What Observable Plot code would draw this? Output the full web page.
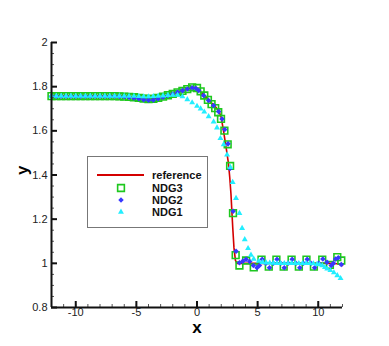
<!DOCTYPE html>
<html>
<head>
<meta charset="utf-8">
<script src="https://cdn.jsdelivr.net/npm/d3@7"></script>
<script src="https://cdn.jsdelivr.net/npm/@observablehq/plot@0.6"></script>
<style>
  html, body { margin: 0; padding: 0; background: #fff; }
  #wrap { position: relative; width: 389px; height: 346px; }
  #wrap svg { display: block; }
  #legend { position: absolute; left: 0; top: 0; pointer-events: none; }
</style>
</head>
<body>
<div id="wrap"></div>
<script>
// ---- data ----
const seriesNames = ["reference", "NDG3", "NDG2", "NDG1"];

const refX = [-12, -8, -6, -5, -4.5, -4, -3.5, -3, -2.5, -2, -1.5, -1, -0.5, -0.3, 0, 0.5, 1, 1.5, 1.8, 2.0, 2.2, 2.4, 2.6, 2.7, 2.8, 2.95, 3.05, 3.17, 3.3, 3.5, 4, 5, 6, 7, 8, 9, 10, 11, 11.6, 12];
const refY = [1.757, 1.757, 1.757, 1.753, 1.749, 1.746, 1.747, 1.752, 1.76, 1.768, 1.776, 1.785, 1.795, 1.797, 1.793, 1.765, 1.737, 1.71, 1.69, 1.66, 1.595, 1.525, 1.45, 1.39, 1.315, 1.16, 1.07, 1.013, 1.0, 1.0, 1.0, 1.0, 1.0, 1.0, 1.0, 1.0, 1.0, 1.0, 0.998, 0.99];

const ndg3X = [-12, -11.6, -11.2, -10.8, -10.4, -10, -9.6, -9.2, -8.8, -8.4, -8, -7.6, -7.2, -6.8,
  -6.4, -6, -5.6, -5.2, -4.8, -4.4, -4, -3.6, -3.2, -2.8, -2.4, -2, -1.6, -1.2, -0.8, -0.4,
  0, 0.3, 0.6, 0.9, 1.2, 1.5, 1.75, 1.98, 2.26, 2.53, 2.73, 2.97, 3.19, 3.5,
  4.05, 4.68, 5.32, 5.92, 6.55, 7.15, 7.8, 8.4, 9.03, 9.64, 10.33, 10.96, 11.57, 11.9];
const ndg3Y = [1.757, 1.757, 1.757, 1.757, 1.757, 1.757, 1.757, 1.757, 1.757, 1.757, 1.757, 1.757, 1.757, 1.757,
  1.756, 1.755, 1.754, 1.752, 1.749, 1.746, 1.744, 1.745, 1.749, 1.755, 1.761, 1.767, 1.774, 1.781, 1.789, 1.797,
  1.794, 1.779, 1.76, 1.74, 1.721, 1.703, 1.684, 1.654, 1.601, 1.539, 1.441, 1.227, 1.037, 0.99,
  1.013, 0.982, 1.017, 0.985, 1.017, 0.985, 1.017, 0.985, 1.017, 0.985, 1.017, 0.993, 1.028, 1.013];

const ndg2X = [-12, -11.6, -11.2, -10.8, -10.4, -10, -9.6, -9.2, -8.8, -8.4, -8, -7.6, -7.2, -6.8,
  -6.4, -6, -5.6, -5.2, -4.8, -4.4, -4, -3.6, -3.2, -2.8, -2.4, -2, -1.6, -1.2, -0.8, -0.4,
  -0.1, 0.14, 0.55, 0.96, 1.37, 1.79, 2.07, 2.29, 2.56, 2.72, 2.98, 3.22,
  3.5, 3.78, 4.05, 4.35, 4.65, 4.95, 5.15, 5.38, 5.68, 5.98, 6.3, 6.6, 6.9, 7.2, 7.52, 7.85,
  8.16, 8.48, 8.78, 9.09, 9.4, 9.7, 10.04, 10.38, 10.72, 11.07, 11.25, 11.43, 11.65, 11.9];
const ndg2Y = [1.757, 1.757, 1.757, 1.757, 1.757, 1.757, 1.757, 1.757, 1.757, 1.757, 1.757, 1.757, 1.757, 1.757,
  1.756, 1.754, 1.752, 1.749, 1.745, 1.741, 1.739, 1.74, 1.745, 1.752, 1.76, 1.767, 1.775, 1.782, 1.789, 1.795,
  1.793, 1.783, 1.76, 1.737, 1.715, 1.687, 1.654, 1.606, 1.541, 1.43, 1.236, 1.055,
  1.003, 1.01, 1.018, 1.008, 0.99, 0.98, 0.99, 1.018, 1.0, 0.98, 1.0, 1.018, 1.0, 0.98, 1.0, 1.018,
  1.0, 0.98, 1.0, 1.018, 1.0, 0.98, 1.0, 1.02, 1.005, 0.99, 1.0, 1.02, 1.025, 0.995];

const ndg1X = [-12, -11.6, -11.2, -10.8, -10.4, -10, -9.6, -9.2, -8.8, -8.4, -8, -7.6, -7.2, -6.8, -6.4, -6, -5.6, -5.2,
  -4.8, -4.4, -4, -3.6, -3.2, -2.8, -2.4, -2, -1.6, -1.2,
  -0.8, -0.4, 0, 0.3, 0.6, 0.96, 1.37, 1.65, 1.93, 2.2, 2.48, 2.75, 2.94, 3.22, 3.5, 3.72, 3.94, 4.21, 4.45, 4.68, 5.09, 5.4, 5.7,
  6.0, 6.3, 6.6, 6.9, 7.2, 7.5, 7.8, 8.1, 8.4, 8.7, 9.0, 9.3, 9.6, 9.9,
  10.1, 10.33, 10.55, 10.74, 11.0, 11.29, 11.57, 11.84];
const ndg1Y = [1.757, 1.757, 1.757, 1.757, 1.757, 1.757, 1.757, 1.757, 1.757, 1.757, 1.757, 1.757, 1.757, 1.757, 1.757, 1.757, 1.757, 1.757,
  1.756, 1.755, 1.755, 1.756, 1.757, 1.759, 1.761, 1.762, 1.762, 1.755,
  1.742, 1.728, 1.712, 1.7, 1.686, 1.665, 1.641, 1.614, 1.566, 1.538, 1.492, 1.435, 1.367, 1.295, 1.227, 1.159, 1.108, 1.068, 1.038, 1.02, 1.01, 1.005, 1.003,
  1.002, 1.001, 1.0, 1.0, 1.0, 1.0, 1.0, 1.0, 1.0, 1.0, 1.0, 1.0, 0.999, 0.996,
  0.994, 0.99, 0.982, 0.975, 0.968, 0.958, 0.945, 0.932];

const xMajorTicks = [-10, -5, 0, 5, 10];
const xMinorTicks = [-12, -11, -10, -9, -8, -7, -6, -5, -4, -3, -2, -1, 0, 1, 2, 3, 4, 5, 6, 7, 8, 9, 10, 11, 12];
const yMajorTicks = [0.8, 1, 1.2, 1.4, 1.6, 1.8, 2];
const yMinorTicks = [0.8, 0.85, 0.9, 0.95, 1, 1.05, 1.1, 1.15, 1.2, 1.25, 1.3, 1.35, 1.4, 1.45, 1.5, 1.55, 1.6, 1.65, 1.7, 1.75, 1.8, 1.85, 1.9, 1.95, 2];

// ---- build ----
const rows = (xs, ys) => xs.map((x, i) => ({x, y: ys[i]}));
const refData = rows(refX, refY);
const ndg3 = rows(ndg3X, ndg3Y);
const ndg2 = rows(ndg2X, ndg2Y);
const ndg1 = rows(ndg1X, ndg1Y);

const C = {ref: "#d40000", g: "#1ec81e", b: "#3838ff", c: "#22eeff"};
const font = "'Liberation Sans', Arial, Helvetica, sans-serif";

const chart = Plot.plot({
  width: 389, height: 346,
  marginLeft: 51, marginRight: 47, marginTop: 42, marginBottom: 39,
  x: {domain: [-12, 12]},
  y: {domain: [0.8, 2]},
  style: {fontFamily: font, fontSize: "11px", color: "#222", background: "white"},
  marks: [
    Plot.line(refData, {x: "x", y: "y", stroke: C.ref, strokeWidth: 1.6}),
    Plot.dot(ndg3, {x: "x", y: "y", symbol: "square", r: 3.8, stroke: C.g, strokeWidth: 1.6, fill: "none"}),
    Plot.dot(ndg2, {x: "x", y: "y", symbol: "diamond2", r: 2.5, fill: C.b, stroke: "none"}),
    Plot.dot(ndg1, {x: "x", y: "y", symbol: "triangle", r: 2.2, fill: C.c, stroke: "none"}),
    // minor ticks (inward)
    Plot.axisX({ticks: xMinorTicks, tickSize: -3, tickFormat: () => "", label: null, stroke: "#555", strokeWidth: 1}),
    Plot.axisY({ticks: yMinorTicks, tickSize: -3, tickFormat: () => "", label: null, stroke: "#555", strokeWidth: 1}),
    // major ticks with labels
    Plot.axisX({ticks: xMajorTicks, tickSize: -6, tickPadding: 7, tickFormat: d => `${d}`, label: null, stroke: "#111", strokeWidth: 2, fill: "#222", fontSize: 11}),
    Plot.axisY({ticks: yMajorTicks, tickSize: -6, tickPadding: 10, tickFormat: d => `${d}`, label: null, stroke: "#111", strokeWidth: 2, fill: "#222", fontSize: 11}),
    // axis lines
    Plot.ruleY([0.8], {stroke: "#111", strokeWidth: 2}),
    Plot.ruleX([-12], {stroke: "#111", strokeWidth: 2}),
    // axis titles
    Plot.text(["x"], {frameAnchor: "bottom", dy: 25, fontSize: 17, fontWeight: "bold", fill: "#000"}),
    Plot.text(["y"], {frameAnchor: "left", dx: -29, rotate: -90, fontSize: 17, fontWeight: "bold", fill: "#000"})
  ]
});

const wrap = document.getElementById("wrap");
wrap.appendChild(chart);

// ---- legend overlay ----
const lg = d3.create("svg").attr("id", "legend").attr("width", 389).attr("height", 346);
lg.append("rect").attr("x", 87.5).attr("y", 156.5).attr("width", 120).attr("height", 71)
  .attr("fill", "white").attr("stroke", "#777").attr("stroke-width", 1);
const rowsY = [175, 188, 200, 212];
const symX = 121, textX = 152;
lg.append("line").attr("x1", 97).attr("x2", 144).attr("y1", rowsY[0]).attr("y2", rowsY[0])
  .attr("stroke", C.ref).attr("stroke-width", 2);
const sym = (type, r) => d3.symbol(type, r * r * Math.PI)();
lg.append("path").attr("d", sym(d3.symbolSquare, 3.8)).attr("transform", `translate(${symX},${rowsY[1]})`)
  .attr("fill", "none").attr("stroke", C.g).attr("stroke-width", 1.6);
lg.append("path").attr("d", sym(d3.symbolDiamond2, 2.5)).attr("transform", `translate(${symX},${rowsY[2]})`)
  .attr("fill", C.b);
lg.append("path").attr("d", sym(d3.symbolTriangle, 2.2)).attr("transform", `translate(${symX},${rowsY[3]})`)
  .attr("fill", C.c);
seriesNames.forEach((name, i) => {
  lg.append("text").attr("x", textX).attr("y", rowsY[i]).attr("dy", "0.35em")
    .attr("font-family", font).attr("font-size", 11).attr("font-weight", "bold").attr("fill", "#111")
    .text(name);
});
wrap.appendChild(lg.node());
</script>
</body>
</html>
